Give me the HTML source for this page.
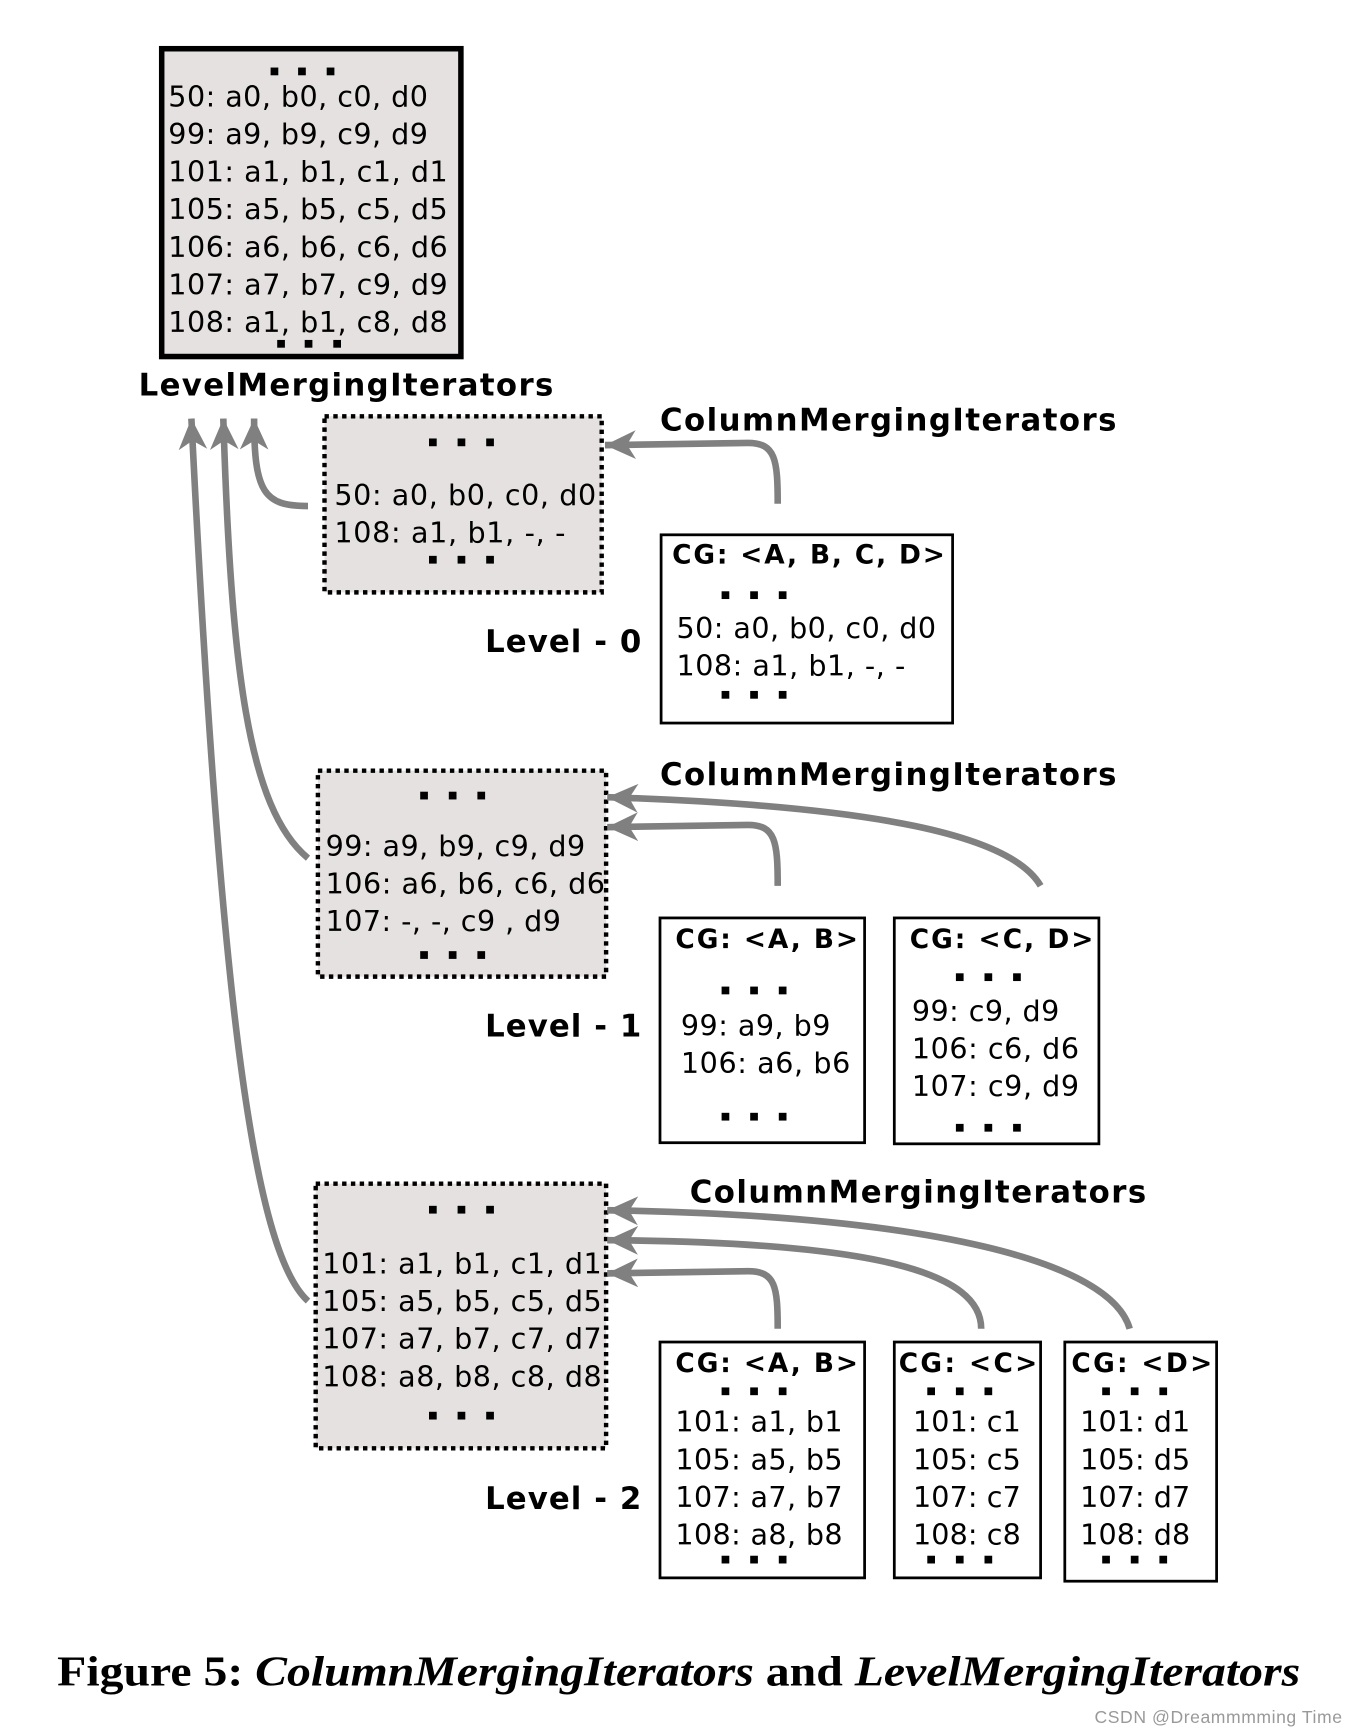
<!DOCTYPE html>
<html><head><meta charset="utf-8"><style>
html,body{margin:0;padding:0;background:#fff;}
svg{display:block;}
.t{font-family:"DejaVu Sans","Liberation Sans",sans-serif;font-size:26px;fill:#000;}
.b{font-family:"DejaVu Sans","Liberation Sans",sans-serif;font-weight:bold;fill:#000;}
.a{fill:none;stroke:#808080;stroke-width:6;}
</style></head><body>
<svg width="1364" height="1734" viewBox="0 0 1240 1566" preserveAspectRatio="none" xmlns="http://www.w3.org/2000/svg">
<defs>
<marker id="ah" markerUnits="userSpaceOnUse" markerWidth="32" markerHeight="30" refX="28" refY="13" orient="auto">
<path d="M28,13 L0,0 L8,13 L0,26 Z" fill="#808080"/>
</marker>
</defs>
<rect width="1240" height="1566" fill="#fff"/>

<rect x="147" y="44" width="272" height="278" fill="#e6e1e1" stroke="#000" stroke-width="5"/>
<g fill="#000">
<rect x="246" y="61" width="7" height="7"/><rect x="271" y="61" width="7" height="7"/><rect x="297" y="61" width="7" height="7"/>
<rect x="252" y="307" width="7" height="7"/><rect x="277" y="307" width="7" height="7"/><rect x="303" y="307" width="7" height="7"/>
</g>
<text class="t" x="153" y="96" textLength="236">50: a0, b0, c0, d0</text>
<text class="t" x="153" y="130" textLength="236">99: a9, b9, c9, d9</text>
<text class="t" x="153" y="164" textLength="254">101: a1, b1, c1, d1</text>
<text class="t" x="153" y="198" textLength="254">105: a5, b5, c5, d5</text>
<text class="t" x="153" y="232" textLength="254">106: a6, b6, c6, d6</text>
<text class="t" x="153" y="266" textLength="254">107: a7, b7, c9, d9</text>
<text class="t" x="153" y="300" textLength="254">108: a1, b1, c8, d8</text>
<text class="b" x="126" y="357" font-size="28" textLength="377">LevelMergingIterators</text>

<rect x="295" y="376" width="252" height="159" fill="#e6e1e1" stroke="#000" stroke-width="4" stroke-dasharray="4 4"/>
<g fill="#000">
<rect x="390" y="396" width="7" height="7"/><rect x="416" y="396" width="7" height="7"/><rect x="442" y="396" width="7" height="7"/>
<rect x="390" y="502" width="7" height="7"/><rect x="416" y="502" width="7" height="7"/><rect x="442" y="502" width="7" height="7"/>
</g>
<text class="t" x="304" y="456" textLength="238">50: a0, b0, c0, d0</text>
<text class="t" x="304" y="490" textLength="210">108: a1, b1, -, -</text>
<text class="b" x="600" y="389" font-size="28" textLength="415">ColumnMergingIterators</text>
<rect x="601" y="483" width="265" height="170" fill="#fff" stroke="#000" stroke-width="2.5"/>
<text class="b" x="611" y="509" font-size="24" textLength="248">CG: &lt;A, B, C, D&gt;</text>
<g fill="#000">
<rect x="656" y="534" width="7" height="7"/><rect x="682" y="534" width="7" height="7"/><rect x="708" y="534" width="7" height="7"/>
<rect x="656" y="624" width="7" height="7"/><rect x="682" y="624" width="7" height="7"/><rect x="708" y="624" width="7" height="7"/>
</g>
<text class="t" x="615" y="576" textLength="236">50: a0, b0, c0, d0</text>
<text class="t" x="615" y="610" textLength="208">108: a1, b1, -, -</text>
<text class="b" x="441" y="589" font-size="28" textLength="142">Level - 0</text>
<path class="a" d="M707,455 C707,415 705,400 680,400 L550,402" marker-end="url(#ah)"/>

<rect x="289" y="696" width="262" height="186" fill="#e6e1e1" stroke="#000" stroke-width="4" stroke-dasharray="4 4"/>
<g fill="#000">
<rect x="382" y="715" width="7" height="7"/><rect x="408" y="715" width="7" height="7"/><rect x="434" y="715" width="7" height="7"/>
<rect x="382" y="859" width="7" height="7"/><rect x="408" y="859" width="7" height="7"/><rect x="434" y="859" width="7" height="7"/>
</g>
<text class="t" x="296" y="773" textLength="236">99: a9, b9, c9, d9</text>
<text class="t" x="296" y="807" textLength="254">106: a6, b6, c6, d6</text>
<text class="t" x="296" y="841" textLength="214">107: -, -, c9 , d9</text>
<text class="b" x="600" y="709" font-size="28" textLength="415">ColumnMergingIterators</text>
<rect x="600" y="829" width="186" height="203" fill="#fff" stroke="#000" stroke-width="2.5"/>
<text class="b" x="614" y="856" font-size="24" textLength="166">CG: &lt;A, B&gt;</text>
<g fill="#000">
<rect x="656" y="891" width="7" height="7"/><rect x="682" y="891" width="7" height="7"/><rect x="708" y="891" width="7" height="7"/>
<rect x="656" y="1005" width="7" height="7"/><rect x="682" y="1005" width="7" height="7"/><rect x="708" y="1005" width="7" height="7"/>
</g>
<text class="t" x="619" y="935" textLength="136">99: a9, b9</text>
<text class="t" x="619" y="969" textLength="154">106: a6, b6</text>
<rect x="813" y="829" width="186" height="204" fill="#fff" stroke="#000" stroke-width="2.5"/>
<text class="b" x="827" y="856" font-size="24" textLength="167">CG: &lt;C, D&gt;</text>
<g fill="#000">
<rect x="869" y="879" width="7" height="7"/><rect x="895" y="879" width="7" height="7"/><rect x="921" y="879" width="7" height="7"/>
<rect x="869" y="1015" width="7" height="7"/><rect x="895" y="1015" width="7" height="7"/><rect x="921" y="1015" width="7" height="7"/>
</g>
<text class="t" x="829" y="922" textLength="134">99: c9, d9</text>
<text class="t" x="829" y="956" textLength="152">106: c6, d6</text>
<text class="t" x="829" y="990" textLength="152">107: c9, d9</text>
<text class="b" x="441" y="936" font-size="28" textLength="142">Level - 1</text>
<path class="a" d="M707,800 C707,760 705,745 680,745 L552,747" marker-end="url(#ah)"/>
<path class="a" d="M946,800 C920,755 800,728 552,720" marker-end="url(#ah)"/>

<rect x="287" y="1069" width="264" height="239" fill="#e6e1e1" stroke="#000" stroke-width="4" stroke-dasharray="4 4"/>
<g fill="#000">
<rect x="390" y="1089" width="7" height="7"/><rect x="416" y="1089" width="7" height="7"/><rect x="442" y="1089" width="7" height="7"/>
<rect x="390" y="1275" width="7" height="7"/><rect x="416" y="1275" width="7" height="7"/><rect x="442" y="1275" width="7" height="7"/>
</g>
<text class="t" x="293" y="1150" textLength="254">101: a1, b1, c1, d1</text>
<text class="t" x="293" y="1184" textLength="254">105: a5, b5, c5, d5</text>
<text class="t" x="293" y="1218" textLength="254">107: a7, b7, c7, d7</text>
<text class="t" x="293" y="1252" textLength="254">108: a8, b8, c8, d8</text>
<text class="b" x="627" y="1086" font-size="28" textLength="415">ColumnMergingIterators</text>

<rect x="600" y="1212" width="186" height="213" fill="#fff" stroke="#000" stroke-width="2.5"/>
<text class="b" x="614" y="1239" font-size="24" textLength="166">CG: &lt;A, B&gt;</text>
<g fill="#000">
<rect x="656" y="1253" width="7" height="7"/><rect x="682" y="1253" width="7" height="7"/><rect x="708" y="1253" width="7" height="7"/>
<rect x="656" y="1405" width="7" height="7"/><rect x="682" y="1405" width="7" height="7"/><rect x="708" y="1405" width="7" height="7"/>
</g>
<text class="t" x="614" y="1293" textLength="152">101: a1, b1</text>
<text class="t" x="614" y="1327" textLength="152">105: a5, b5</text>
<text class="t" x="614" y="1361" textLength="152">107: a7, b7</text>
<text class="t" x="614" y="1395" textLength="152">108: a8, b8</text>

<rect x="813" y="1212" width="133" height="213" fill="#fff" stroke="#000" stroke-width="2.5"/>
<text class="b" x="817" y="1239" font-size="24" textLength="126">CG: &lt;C&gt;</text>
<g fill="#000">
<rect x="843" y="1253" width="7" height="7"/><rect x="869" y="1253" width="7" height="7"/><rect x="895" y="1253" width="7" height="7"/>
<rect x="843" y="1405" width="7" height="7"/><rect x="869" y="1405" width="7" height="7"/><rect x="895" y="1405" width="7" height="7"/>
</g>
<text class="t" x="830" y="1293" textLength="98">101: c1</text>
<text class="t" x="830" y="1327" textLength="98">105: c5</text>
<text class="t" x="830" y="1361" textLength="98">107: c7</text>
<text class="t" x="830" y="1395" textLength="98">108: c8</text>

<rect x="968" y="1212" width="138" height="216" fill="#fff" stroke="#000" stroke-width="2.5"/>
<text class="b" x="974" y="1239" font-size="24" textLength="128">CG: &lt;D&gt;</text>
<g fill="#000">
<rect x="1002" y="1253" width="7" height="7"/><rect x="1028" y="1253" width="7" height="7"/><rect x="1054" y="1253" width="7" height="7"/>
<rect x="1002" y="1405" width="7" height="7"/><rect x="1028" y="1405" width="7" height="7"/><rect x="1054" y="1405" width="7" height="7"/>
</g>
<text class="t" x="982" y="1293" textLength="100">101: d1</text>
<text class="t" x="982" y="1327" textLength="100">105: d5</text>
<text class="t" x="982" y="1361" textLength="100">107: d7</text>
<text class="t" x="982" y="1395" textLength="100">108: d8</text>
<text class="b" x="441" y="1363" font-size="28" textLength="142">Level - 2</text>

<path class="a" d="M707,1200 C707,1162 705,1148 680,1148 L552,1150" marker-end="url(#ah)"/>
<path class="a" d="M892,1200 C892,1150 800,1122 552,1120" marker-end="url(#ah)"/>
<path class="a" d="M1027,1200 C1010,1140 850,1098 552,1093" marker-end="url(#ah)"/>

<path class="a" d="M280,457 C240,457 231,445 231,378" marker-end="url(#ah)"/>
<path class="a" d="M280,775 C225,730 210,600 203,378" marker-end="url(#ah)"/>
<path class="a" d="M280,1175 C230,1130 200,900 174,378" marker-end="url(#ah)"/>

<text x="52" y="1522" font-family="'Liberation Serif',serif" font-weight="bold" font-size="38" textLength="1130" lengthAdjust="spacingAndGlyphs">Figure 5: <tspan font-style="italic">ColumnMergingIterators</tspan> and <tspan font-style="italic">LevelMergingIterators</tspan></text>
<text x="995" y="1556" font-family="'Liberation Sans',sans-serif" font-size="16" fill="#999" textLength="225">CSDN @Dreammmming Time</text>
</svg>
</body></html>
